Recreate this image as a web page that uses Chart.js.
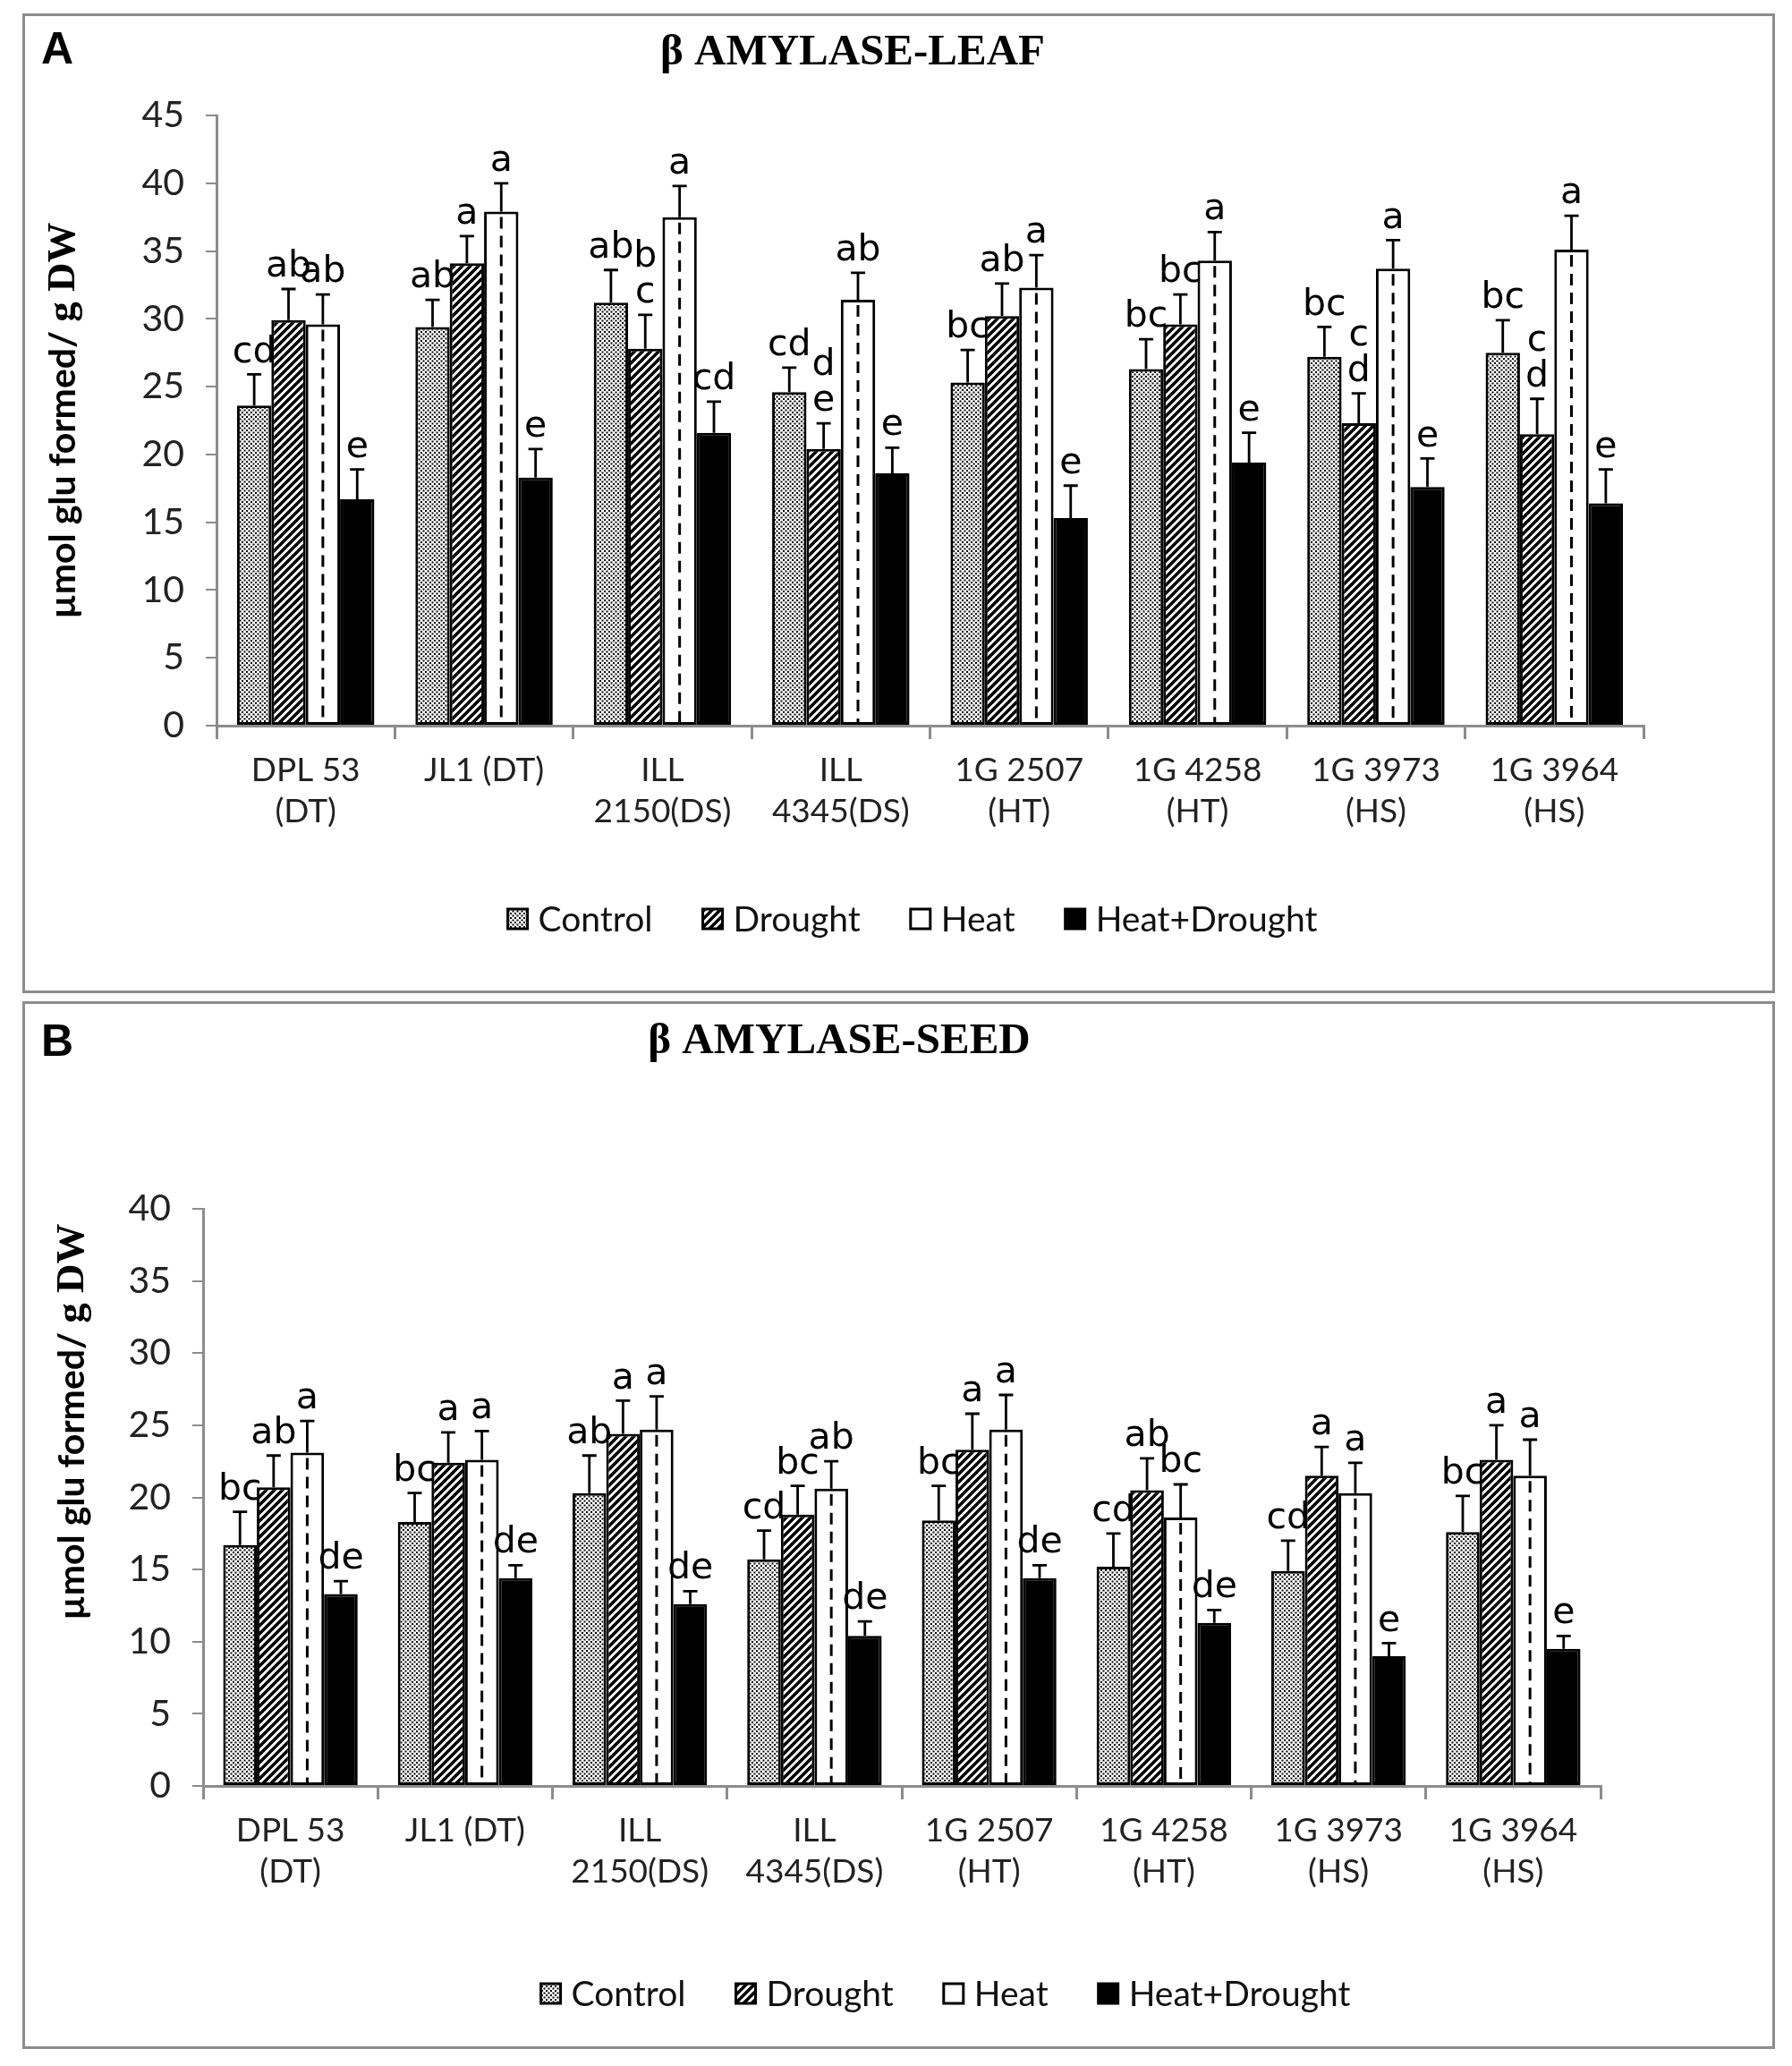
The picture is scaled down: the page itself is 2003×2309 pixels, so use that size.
<!DOCTYPE html>
<html>
<head>
<meta charset="utf-8">
<script src="https://cdn.jsdelivr.net/npm/chart.js@4.4.1/dist/chart.umd.min.js"></script>
<style>
  body { margin: 0; background: #fff; width: 2003px; height: 2309px; position: relative; overflow: hidden; }
  .panel { position: absolute; border: 3px solid #8c8c8c; box-sizing: border-box; }
  canvas { position: absolute; }
</style>
</head>
<body>
<div class="panel" style="left:25px;top:15px;width:1959px;height:1095px"></div>
<canvas id="leaf" width="1959" height="1095" style="left:25px;top:15px"></canvas>
<div class="panel" style="left:25px;top:1119px;width:1959px;height:1171px"></div>
<canvas id="seed" width="1959" height="1171" style="left:25px;top:1119px"></canvas>

<script>
// genotypes on the x axis (two-line labels)
var genotypes = [['DPL 53', '(DT)'], ['JL1 (DT)'], ['ILL', '2150(DS)'], ['ILL', '4345(DS)'],
                 ['1G 2507', '(HT)'], ['1G 4258', '(HT)'], ['1G 3973', '(HS)'], ['1G 3964', '(HS)']];
var treatments = ['Control', 'Drought', 'Heat', 'Heat+Drought'];

// beta amylase - leaf
var leafControl = [23.6, 29.4, 31.2, 24.6, 25.3, 26.3, 27.2, 27.5];
var leafDrought = [29.9, 34.1, 27.8, 20.4, 30.2, 29.6, 22.3, 21.5];
var leafHeat    = [29.6, 37.9, 37.5, 31.4, 32.3, 34.3, 33.7, 35.1];
var leafHD      = [16.7, 18.3, 21.6, 18.6, 15.3, 19.4, 17.6, 16.4];
var leafControlErr = [2.3, 2.0, 2.4, 1.8, 2.4, 2.2, 2.2, 2.4];
var leafDroughtErr = [2.3, 2.0, 2.5, 1.9, 2.4, 2.2, 2.2, 2.6];
var leafHeatErr    = [2.2, 2.1, 2.3, 2.0, 2.4, 2.1, 2.1, 2.5];
var leafHDErr      = [2.2, 2.1, 2.3, 1.9, 2.4, 2.2, 2.1, 2.5];
var leafControlSig = ['cd', 'ab', 'ab', 'cd', 'bc', 'bc', 'bc', 'bc'];
var leafDroughtSig = ['ab', 'a', 'b\nc', 'd\ne', 'ab', 'bc', 'c\nd', 'c\nd'];
var leafHeatSig    = ['ab', 'a', 'a', 'ab', 'a', 'a', 'a', 'a'];
var leafHDSig      = ['e', 'e', 'cd', 'e', 'e', 'e', 'e', 'e'];
var leafTicks = [0, 5, 10, 15, 20, 25, 30, 35, 40, 45];

// beta amylase - seed
var seedControl = [16.7, 18.3, 20.3, 15.7, 18.4, 15.2, 14.9, 17.6];
var seedDrought = [20.7, 22.4, 24.4, 18.8, 23.3, 20.5, 21.5, 22.6];
var seedHeat    = [23.1, 22.6, 24.7, 20.6, 24.7, 18.6, 20.3, 21.5];
var seedHD      = [13.3, 14.4, 12.6, 10.4, 14.4, 11.3, 9.0, 9.5];
var seedControlErr = [2.3, 2.0, 2.6, 2.0, 2.4, 2.3, 2.1, 2.5];
var seedDroughtErr = [2.2, 2.1, 2.3, 2.0, 2.5, 2.2, 2.0, 2.4];
var seedHeatErr    = [2.2, 2.0, 2.3, 1.9, 2.4, 2.3, 2.1, 2.5];
var seedHDErr      = [0.9, 0.9, 0.9, 1.0, 0.9, 0.9, 0.9, 0.9];
var seedControlSig = ['bc', 'bc', 'ab', 'cd', 'bc', 'cd', 'cd', 'bc'];
var seedDroughtSig = ['ab', 'a', 'a', 'bc', 'a', 'ab', 'a', 'a'];
var seedHeatSig    = ['a', 'a', 'a', 'ab', 'a', 'bc', 'a', 'a'];
var seedHDSig      = ['de', 'de', 'de', 'de', 'de', 'de', 'e', 'e'];
var seedTicks = [0, 5, 10, 15, 20, 25, 30, 35, 40];

function tile(size, draw) {
  var c = document.createElement('canvas');
  c.width = c.height = size;
  var g = c.getContext('2d');
  g.fillStyle = '#fff';
  g.fillRect(0, 0, size, size);
  draw(g, size);
  return g.createPattern(c, 'repeat');
}

var dots = tile(5, function (g) {
  g.fillStyle = '#000';
  g.fillRect(0, 0, 2, 2);
  g.fillRect(2.5, 2.5, 2, 2);
});
var hatch = tile(9, function (g, s) {
  g.strokeStyle = '#000';
  g.lineWidth = 3.6;
  g.beginPath();
  g.moveTo(0, s); g.lineTo(s, 0);
  g.moveTo(-2, 2); g.lineTo(2, -2);
  g.moveTo(s - 2, s + 2); g.lineTo(s + 2, s - 2);
  g.stroke();
});
var fills = [dots, hatch, '#fff', '#000'];

var decor = {
  id: 'decor',
  afterDatasetsDraw: function (chart, args, o) {
    var ctx = chart.ctx, y = chart.scales.y;
    ctx.save();
    chart.data.datasets.forEach(function (ds, di) {
      chart.getDatasetMeta(di).data.forEach(function (bar, i) {
        // dashed centre line of the heat bars
        if (ds.dashed) {
          ctx.strokeStyle = '#000';
          ctx.lineWidth = 3;
          ctx.setLineDash([13, 8]);
          ctx.beginPath();
          ctx.moveTo(bar.x, bar.y + 6);
          ctx.lineTo(bar.x, bar.base - 2);
          ctx.stroke();
          ctx.setLineDash([]);
        }
        var top = y.getPixelForValue(ds.data[i] + ds.err[i]);
        ctx.strokeStyle = '#000';
        ctx.lineWidth = 2.8;
        ctx.beginPath();
        ctx.moveTo(bar.x, bar.y);
        ctx.lineTo(bar.x, top);
        ctx.moveTo(bar.x - 8, top);
        ctx.lineTo(bar.x + 8, top);
        ctx.stroke();
        // significance letters
        ctx.fillStyle = '#000';
        ctx.font = '41px "DejaVu Sans"';
        ctx.textAlign = 'center';
        ctx.textBaseline = 'bottom';
        var lines = ds.sig[i].split('\n');
        lines.forEach(function (t, k) {
          ctx.fillText(t, bar.x, top - 4 - (lines.length - 1 - k) * 40);
        });
      });
    });
    ctx.restore();
  },
  afterDraw: function (chart, args, o) {
    var ctx = chart.ctx;
    ctx.save();
    ctx.fillStyle = '#000';
    ctx.textBaseline = 'middle';
    // panel letter
    ctx.textAlign = 'left';
    ctx.font = 'bold 50px "Liberation Sans"';
    ctx.fillText(o.letter, 21, o.letterY);
    // panel title
    ctx.textAlign = 'center';
    ctx.font = 'bold 49px "Liberation Serif"';
    ctx.fillText(o.title, o.titleX, o.titleY);
    // y axis title, mixed fonts
    var p1 = '\u00b5mol glu formed/ ', p2 = 'g DW';
    var f1 = 'bold 41px Lato', f2 = 'bold 45px "Liberation Serif"';
    ctx.font = f1; var w1 = ctx.measureText(p1).width;
    ctx.font = f2; var w2 = ctx.measureText(p2).width;
    ctx.translate(o.yTitleX, o.yTitleY);
    ctx.rotate(-Math.PI / 2);
    ctx.textAlign = 'left';
    ctx.font = f1; ctx.fillText(p1, -(w1 + w2) / 2, 0);
    ctx.font = f2; ctx.fillText(p2, -(w1 + w2) / 2 + w1, 0);
    ctx.setTransform(1, 0, 0, 1, 0, 0);
    // legend
    ctx.font = '39px Lato';
    var box = 22, gap = 12, itemGap = 56, total = 0;
    var items = chart.data.datasets.map(function (d) {
      var w = ctx.measureText(d.label).width;
      total += box + gap + w;
      return { label: d.label, fill: d.backgroundColor, w: w };
    });
    total += itemGap * (items.length - 1);
    var x = o.legendX - total / 2;
    items.forEach(function (it) {
      ctx.fillStyle = it.fill;
      ctx.fillRect(x, o.legendY - box / 2, box, box);
      ctx.strokeStyle = '#000';
      ctx.lineWidth = 3;
      ctx.strokeRect(x, o.legendY - box / 2, box, box);
      ctx.fillStyle = '#111';
      ctx.textAlign = 'left';
      ctx.fillText(it.label, x + box + gap, o.legendY + 1);
      x += box + gap + it.w + itemGap;
    });
    ctx.restore();
  }
};

function makeChart(id, series, errs, sigs, ticks, pad, deco) {
  var ctx = document.getElementById(id).getContext('2d');
  return new Chart(ctx, {
    type: 'bar',
    data: {
      labels: genotypes,
      datasets: treatments.map(function (t, k) {
        return {
          label: t,
          data: series[k],
          err: errs[k],
          sig: sigs[k],
          dashed: k === 2,
          backgroundColor: fills[k],
          borderColor: '#000',
          borderWidth: 3,
          borderSkipped: false,
          categoryPercentage: 0.77,
          barPercentage: 1.0
        };
      })
    },
    options: {
      responsive: false,
      devicePixelRatio: 1,
      animation: false,
      layout: { padding: pad },
      plugins: { legend: { display: false }, tooltip: { enabled: false }, decor: deco },
      scales: {
        x: {
          afterFit: function (a) { a.height = 120; },
          grid: { display: true, drawOnChartArea: false, offset: true, tickLength: 15, color: '#8c8c8c', lineWidth: 3 },
          border: { display: true, color: '#8c8c8c', width: 3 },
          ticks: { color: '#222', font: { family: 'Lato', size: 37, lineHeight: 1.25 }, padding: 12, maxRotation: 0, autoSkip: false }
        },
        y: {
          min: ticks[0],
          max: ticks[ticks.length - 1],
          afterFit: function (a) { a.width = 100; },
          afterBuildTicks: function (a) { a.ticks = ticks.map(function (v) { return { value: v }; }); },
          grid: { display: true, drawOnChartArea: false, tickLength: 12, color: '#8c8c8c', lineWidth: 2 },
          border: { display: true, color: '#8c8c8c', width: 3 },
          ticks: { color: '#222', font: { family: 'Lato', size: 41 }, padding: 24 }
        }
      }
    },
    plugins: [decor]
  });
}

makeChart('leaf',
  [leafControl, leafDrought, leafHeat, leafHD],
  [leafControlErr, leafDroughtErr, leafHeatErr, leafHDErr],
  [leafControlSig, leafDroughtSig, leafHeatSig, leafHDSig],
  leafTicks,
  { left: 117, right: 147, top: 114, bottom: 179 },
  { letter: 'A', letterY: 42, title: '\u03b2 AMYLASE-LEAF', titleX: 928, titleY: 44,
    yTitleX: 46, yTitleY: 455, legendX: 995, legendY: 1012 });

makeChart('seed',
  [seedControl, seedDrought, seedHeat, seedHD],
  [seedControlErr, seedDroughtErr, seedHeatErr, seedHDErr],
  [seedControlSig, seedDroughtSig, seedHeatSig, seedHDSig],
  seedTicks,
  { left: 102, right: 195, top: 232, bottom: 174 },
  { letter: 'B', letterY: 47, title: '\u03b2 AMYLASE-SEED', titleX: 913, titleY: 45,
    yTitleX: 56, yTitleY: 470, legendX: 1032, legendY: 1109 });
</script>
</body>
</html>
